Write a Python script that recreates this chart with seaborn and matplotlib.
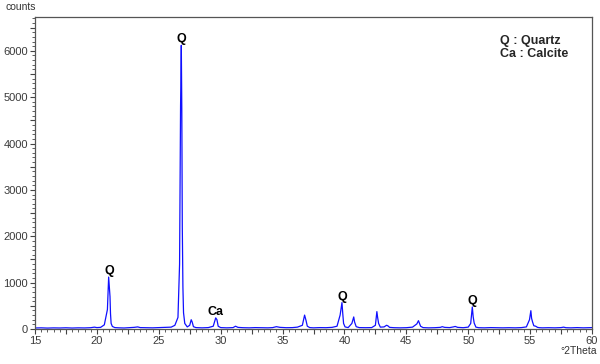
import matplotlib
matplotlib.use("Agg")
import matplotlib.pyplot as plt
from matplotlib.ticker import MultipleLocator, FuncFormatter
import seaborn as sns
import pandas as pd

# ---- data ----
two_theta = [15.0, 15.5, 16.0, 16.5, 17.0, 17.5, 18.0, 18.5, 19.0, 19.5, 19.8, 20.0, 20.3, 20.6,
             20.85, 20.95, 21.02, 21.06, 21.1, 21.15, 21.25, 21.45, 21.8, 22.2, 22.6, 23.0, 23.3,
             23.5, 24.0, 24.5, 25.0, 25.5, 26.0, 26.3, 26.55, 26.68, 26.76, 26.82, 26.86, 26.9,
             26.95, 27.0, 27.1, 27.3, 27.5, 27.62, 27.7, 27.8, 28.0, 28.5, 29.0, 29.4, 29.6, 29.7,
             29.8, 30.0, 30.5, 31.0, 31.2, 31.4, 31.8, 32.3, 32.8, 33.3, 33.8, 34.2, 34.5, 34.8,
             35.3, 35.8, 36.2, 36.6, 36.78, 36.9, 37.0, 37.2, 37.5, 38.0, 38.5, 39.0, 39.4, 39.65,
             39.8, 39.86, 39.93, 40.05, 40.3, 40.6, 40.75, 40.82, 40.95, 41.2, 41.7, 42.2, 42.5,
             42.62, 42.68, 42.76, 42.9, 43.2, 43.4, 43.5, 43.65, 44.0, 44.5, 45.0, 45.5, 45.85,
             45.98, 46.05, 46.15, 46.35, 46.8, 47.3, 47.75, 47.9, 48.1, 48.5, 48.8, 48.95, 49.15,
             49.6, 50.0, 50.2, 50.33, 50.4, 50.48, 50.62, 50.85, 51.3, 51.8, 52.3, 52.8, 53.3,
             53.8, 54.3, 54.7, 54.95, 55.06, 55.12, 55.2, 55.3, 55.45, 55.6, 55.75, 56.0, 56.5,
             57.0, 57.5, 57.7, 57.9, 58.3, 58.8, 59.3, 59.7, 60.0]
counts = [22, 25, 20, 24, 22, 26, 21, 25, 23, 28, 40, 30, 35, 90,
          420, 1120, 860, 700, 330, 120, 55, 30, 25, 22, 28, 35, 45,
          30, 28, 25, 30, 35, 40, 80, 250, 1400, 4800, 6120, 4750, 2200,
          900, 350, 120, 45, 80, 200, 150, 50, 30, 25, 30, 60, 240, 200,
          60, 30, 25, 30, 60, 35, 28, 25, 30, 28, 25, 30, 50, 35,
          28, 30, 40, 80, 300, 180, 60, 30, 25, 30, 28, 35, 60, 300,
          570, 345, 120, 45, 30, 120, 260, 150, 50, 30, 28, 30, 80,
          375, 250, 120, 40, 45, 80, 70, 35, 28, 25, 28, 40, 110,
          180, 130, 60, 30, 25, 28, 35, 50, 35, 30, 45, 55, 35,
          28, 40, 120, 475, 265, 130, 40, 28, 25, 30, 28, 25, 28,
          25, 30, 45, 200, 395, 230, 150, 70, 60, 35, 28, 25, 28,
          25, 30, 40, 28, 25, 30, 25, 28, 30]

label_text = ["Q", "Q", "Ca", "Q", "Q"]
label_x = [21.02, 26.86, 29.6, 39.8, 50.33]
label_y = [1120, 6120, 240, 570, 475]

legend_lines = ["Q : Quartz", "Ca : Calcite"]

df = pd.DataFrame({"two_theta": two_theta, "counts": counts})

sns.set_style("ticks")
plt.rcParams["font.family"] = ["Liberation Sans", "DejaVu Sans"]

fig = plt.figure(figsize=(6.0, 3.64), dpi=100)
ax = fig.add_axes([35 / 600, 35 / 364, 557 / 600, 312 / 364])

sns.lineplot(data=df, x="two_theta", y="counts", ax=ax, color="#1010ff",
             linewidth=0.9, sort=False)

ax.set_xlim(15, 60)
ax.set_ylim(0, 6730)
ax.set_xlabel("")
ax.set_ylabel("")

ax.xaxis.set_major_locator(MultipleLocator(2.5))
ax.xaxis.set_minor_locator(MultipleLocator(0.5))
ax.yaxis.set_major_locator(MultipleLocator(500))
ax.yaxis.set_minor_locator(MultipleLocator(100))
ax.xaxis.set_major_formatter(FuncFormatter(lambda v, p: f"{v:g}" if abs(v % 5) < 1e-6 else ""))
ax.yaxis.set_major_formatter(FuncFormatter(lambda v, p: f"{v:g}" if abs(v % 1000) < 1e-6 else ""))

ax.tick_params(which="major", direction="out", length=3.5, width=0.8, color="#444444",
               labelsize=8, labelcolor="#3a3a3a", pad=1.5)
ax.tick_params(which="minor", direction="out", length=2, width=0.6, color="#444444")

for s in ax.spines.values():
    s.set_color("#555555")
    s.set_linewidth(0.9)

for t, x, y in zip(label_text, label_x, label_y):
    ax.annotate(t, xy=(x, y), xytext=(0, 0), textcoords="offset points",
                ha="center", va="bottom", fontsize=9, fontweight="bold", color="black")

ax.text(0.835, 0.902, "\n".join(legend_lines), transform=ax.transAxes, ha="left", va="center",
        fontsize=9, fontweight="bold", linespacing=1.2)

fig.text(5 / 600, 1 - 7 / 364, "counts", ha="left", va="center", fontsize=7.5, color="#333333")
fig.text(597 / 600, 1 - 351 / 364, "°2Theta", ha="right", va="center", fontsize=7.5, color="#333333")

fig.savefig("out.png", dpi=100)
